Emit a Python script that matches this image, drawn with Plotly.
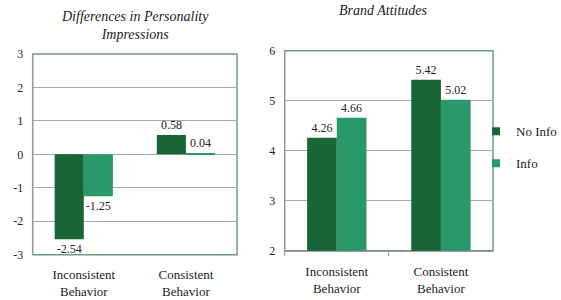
import plotly.graph_objects as go

categories = ["Inconsistent<br>Behavior", "Consistent<br>Behavior"]
series_names = ["No Info", "Info"]
diff_noinfo = [-2.54, 0.58]
diff_info = [-1.25, 0.04]
brand_noinfo = [4.26, 5.42]
brand_info = [4.66, 5.02]
diff_ticks = [-3, -2, -1, 0, 1, 2, 3]
diff_ticktext = ["-3", "-2", "-1", "0", "1", "2", "3"]
brand_ticks = [2, 3, 4, 5, 6]

DARK = "#186636"
LIGHT = "#29996a"
FONT = "Liberation Serif"
FRAME = "#6f9a85"
GRID = "#a6a6a6"
AXIS = "#9a9a9a"

fig = go.Figure()
for vals, color, name, xa, ya in [
    (diff_noinfo, DARK, series_names[0], "x", "y"),
    (diff_info, LIGHT, series_names[1], "x", "y"),
    (brand_noinfo, DARK, series_names[0], "x2", "y2"),
    (brand_info, LIGHT, series_names[1], "x2", "y2"),
]:
    fig.add_trace(go.Bar(x=categories, y=vals, marker_color=color, name=name,
                         legendgroup=name, text=[f"{v:.2f}" for v in vals],
                         textposition="outside", xaxis=xa, yaxis=ya,
                         showlegend=False, cliponaxis=False))

# legend entries (small square keys, as in the reference)
for name, color in zip(series_names, [DARK, LIGHT]):
    fig.add_trace(go.Scatter(x=[None], y=[None], mode="markers", name=name,
                             legendgroup=name, xaxis="x2", yaxis="y2",
                             marker=dict(symbol="square", size=8, color=color)))

fig.update_traces(selector=dict(type="bar"),
                  textfont=dict(family=FONT, size=12, color="#222"), marker_line_width=0)

tf = dict(family=FONT, size=12, color="#222")
xtf = dict(family=FONT, size=13, color="#222")

fig.update_layout(
    template="none",
    width=561, height=300,
    margin=dict(l=0, r=0, t=0, b=0, autoexpand=False),
    paper_bgcolor="white", plot_bgcolor="white",
    barmode="group", bargap=0.43, bargroupgap=0,
    showlegend=True,
    legend=dict(x=0.8485, y=0.612, xanchor="left", yanchor="top", bgcolor="rgba(0,0,0,0)",
                font=dict(family=FONT, size=13, color="#222"),
                tracegroupgap=12, traceorder="grouped", itemwidth=30),
    xaxis=dict(domain=[0.0583, 0.4225], anchor="y", ticks="", showline=False,
               showgrid=False, zeroline=False, automargin=False, tickfont=xtf,
               ticklabelstandoff=10),
    yaxis=dict(domain=[0.151, 0.82], anchor="x", range=[-3, 3], tickvals=diff_ticks,
               ticktext=diff_ticktext, ticks="", showline=True, linecolor=AXIS,
               showgrid=True, gridcolor=GRID, gridwidth=1, zeroline=True, zerolinecolor=GRID,
               zerolinewidth=1, ticklabelstandoff=6, automargin=False, tickfont=tf),
    xaxis2=dict(domain=[0.5075, 0.8788], anchor="y2", ticks="outside", ticklen=4,
                tickcolor=AXIS, tickson="boundaries", showline=True, linecolor=AXIS,
                showgrid=False, zeroline=False, automargin=False, tickfont=xtf,
                ticklabelstandoff=9),
    yaxis2=dict(domain=[0.1643, 0.831], anchor="x2", range=[2, 6], tickvals=brand_ticks,
                ticks="", showline=True, linecolor=AXIS,
                showgrid=True, gridcolor=GRID, gridwidth=1, zeroline=False, ticklabelstandoff=6,
                automargin=False, tickfont=tf),
    shapes=[
        dict(type="rect", xref="x domain", yref="y domain", x0=0, x1=1, y0=0, y1=1,
             line=dict(color=FRAME, width=1.5), layer="below"),
        dict(type="rect", xref="x2 domain", yref="y2 domain", x0=0, x1=1, y0=0, y1=1,
             line=dict(color=FRAME, width=1.5), layer="below"),
    ],
    annotations=[
        dict(text="Differences in Personality<br>Impressions", x=0.24, y=1 - 25 / 300,
             xref="paper", yref="paper", showarrow=False, xanchor="center", yanchor="middle",
             font=dict(family=FONT, size=14, color="#222", style="italic")),
        dict(text="Brand Attitudes", x=0.683, y=1 - 11 / 300,
             xref="paper", yref="paper", showarrow=False, xanchor="center", yanchor="middle",
             font=dict(family=FONT, size=14, color="#222", style="italic")),
    ],
)

fig.write_html("out.html")
